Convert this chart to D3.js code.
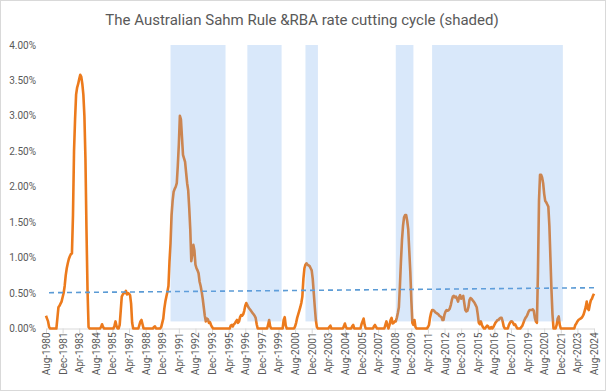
<!DOCTYPE html>
<html><head><meta charset="utf-8">
<script src="https://cdn.jsdelivr.net/npm/d3@7"></script>
<style>body{margin:0;background:#fff}svg{display:block}</style>
</head><body><svg id="c" width="606" height="391"></svg>
<script>
const title = "The Australian Sahm Rule &RBA rate cutting cycle (shaded)";
const startMonth = "Aug-1980";
const endMonth = "Aug-2024";
// Sahm rule indicator, % (monthly, Aug-1980 .. Aug-2024)
const sahm = [
0.18,0.14,0.10,0.02,0,0,0,0,0,0,
0,0.15,0.30,0.32,0.35,0.38,0.44,0.50,0.60,0.75,
0.85,0.92,0.98,1.02,1.05,1.06,1.60,2.50,2.95,3.30,
3.40,3.45,3.52,3.58,3.55,3.45,3.30,3.00,2.40,1.40,
0.55,0.02,0,0,0,0,0,0,0,0,
0,0,0,0.02,0.06,0.02,0,0,0,0,
0,0,0,0,0,0,0.04,0.10,0.03,0,
0,0.05,0.25,0.45,0.48,0.50,0.50,0.53,0.48,0.50,
0.49,0.47,0.35,0.08,0,0,0,0,0,0,
0.05,0.10,0.12,0.06,0,0,0,0,0,0,
0,0,0,0,0.02,0.03,0,0,0,0,
0,0.02,0.08,0.14,0.28,0.38,0.45,0.52,0.60,0.95,
1.20,1.60,1.80,1.93,1.97,2.00,2.05,2.30,2.60,3.00,
2.95,2.70,2.45,2.40,2.35,2.20,2.05,1.95,1.70,1.40,
0.95,1.05,1.18,1.10,0.90,0.85,0.82,0.78,0.66,0.60,
0.52,0.42,0.30,0.18,0.10,0.14,0.13,0.08,0.09,0.05,
0.02,0,0,0,0,0,0,0,0,0,
0,0,0,0,0,0,0,0,0.04,0.05,
0.03,0.06,0.07,0.10,0.12,0.08,0.10,0.16,0.19,0.18,
0.20,0.25,0.32,0.36,0.33,0.30,0.28,0.26,0.24,0.22,
0.20,0.18,0.15,0.06,0,0,0,0,0,0,
0,0,0,0,0.05,0.12,0.03,0,0,0,
0,0,0,0,0,0,0,0,0,0.12,
0.16,0.04,0,0,0,0,0,0,0,0,
0.03,0.08,0.15,0.20,0.25,0.30,0.36,0.45,0.70,0.85,
0.90,0.92,0.90,0.89,0.88,0.85,0.82,0.70,0.50,0.30,
0.12,0.02,0,0,0,0,0,0,0,0,
0,0,0,0.02,0.04,0,0,0,0,0,
0,0,0,0,0,0,0,0.03,0.07,0.02,
0,0,0,0,0,0.03,0.05,0,0,0,
0,0,0,0,0.06,0.10,0.14,0.05,0,0,
0,0,0,0,0,0,0.03,0.05,0.02,0,
0,0,0,0,0,0,0,0.05,0.10,0.04,
0,0.05,0.12,0.15,0.07,0.08,0.10,0.10,0.15,0.22,
0.30,0.60,0.95,1.25,1.45,1.57,1.60,1.60,1.52,1.40,
1.10,0.80,0.40,0.08,0.05,0.12,0.02,0,0,0,
0,0,0,0,0,0,0,0,0.02,0.05,
0.15,0.22,0.26,0.26,0.25,0.23,0.22,0.21,0.20,0.18,
0.17,0.16,0.12,0.12,0.20,0.24,0.26,0.25,0.26,0.28,
0.33,0.40,0.45,0.46,0.44,0.45,0.42,0.38,0.44,0.47,
0.42,0.44,0.46,0.36,0.26,0.24,0.25,0.30,0.40,0.43,
0.42,0.40,0.38,0.36,0.33,0.30,0.20,0.08,0.06,0.10,
0.05,0.02,0,0,0.02,0.04,0.03,0,0,0.02,
0,0.02,0.05,0.08,0.10,0.12,0.12,0.14,0.15,0.15,
0.10,0.03,0,0,0,0,0.05,0.08,0.10,0.10,
0.08,0.05,0.06,0.03,0,0,0,0,0.02,0.04,
0.08,0.12,0.15,0.17,0.20,0.24,0.26,0.26,0.26,0.27,
0.25,0.15,0.10,0.08,0.80,1.80,2.17,2.17,2.13,2.05,
1.90,1.80,1.78,1.75,1.72,1.45,1.00,0.55,0.20,0,
0,0,0.05,0.14,0.17,0.05,0,0,0,0,
0,0,0,0,0,0,0,0,0,0,
0.05,0.07,0.10,0.12,0.13,0.14,0.15,0.17,0.20,0.25,
0.30,0.38,0.28,0.26,0.34,0.40,0.42,0.46,0.49
];
// linear trend of the indicator, as drawn (start, end), %
const trend = [0.505, 0.575];
// RBA rate cutting cycles (shaded), as drawn
const cycleStart = ["Aug-1990","Oct-1996","Jun-2001","Sep-2008","Aug-2011"];
const cycleEnd   = ["Jan-1995","Jul-1999","Jun-2002","Feb-2010","Feb-2022"];
const shadeFloor = 0.1, shadeCeil = 4.0;
const yTicks = [0,0.5,1,1.5,2,2.5,3,3.5,4];
const labelEvery = 16;

const fmtM = d3.timeFormat("%b-%Y"), parseM = d3.timeParse("%b-%Y");
const months = d3.timeMonth.range(parseM(startMonth), d3.timeMonth.offset(parseM(endMonth),1)).map(fmtM);
const data = months.map((m,i)=>({m, v: sahm[i]}));

const svg = d3.select("#c");
svg.append("rect").attr("x",0.5).attr("y",0.5).attr("width",605).attr("height",390)
  .attr("fill","#fff").attr("stroke","#d9d9d9");

const x = d3.scalePoint().domain(months).range([46, 594]);
const y = d3.scaleLinear().domain([0,4]).range([328.5, 45]);
const font = "Roboto, 'Open Sans', sans-serif";

// y labels
svg.append("g").selectAll("text").data(yTicks).join("text")
  .attr("x",36).attr("y",d=>y(d)).attr("dy","0.35em").attr("text-anchor","end")
  .attr("font-family",font).attr("font-size",10).attr("fill","#595959")
  .text(d=>d3.format(".2f")(d)+"%");

// x axis
const xAxis = d3.axisBottom(x).tickValues(months.filter((d,i)=>i%labelEvery===0)).tickSize(5).tickPadding(3);
const gx = svg.append("g").attr("transform",`translate(0,${y(0)})`).call(xAxis);
gx.select(".domain").attr("stroke","#d9d9d9");
gx.selectAll(".tick line").attr("stroke","#d9d9d9");
gx.selectAll(".tick text").attr("transform","rotate(-90)").attr("text-anchor","end")
  .attr("x",-4).attr("y",0).attr("dy","0.35em")
  .attr("font-family",font).attr("font-size",10).attr("fill","#595959");

// line
svg.append("path").datum(data)
  .attr("fill","none").attr("stroke","#ec7a1c").attr("stroke-width",2.6).attr("stroke-linejoin","round")
  .attr("d", d3.line().x(d=>x(d.m)).y(d=>y(d.v)));

// trendline
svg.append("line")
  .attr("x1",x(months[0])+3).attr("x2",x(months[months.length-1]))
  .attr("y1",y(trend[0])).attr("y2",y(trend[1]))
  .attr("stroke","#5b9bd5").attr("stroke-width",1.6).attr("stroke-dasharray","5,4");

// shading on top
svg.append("g").selectAll("rect").data(cycleStart.map((s,i)=>({s,e:cycleEnd[i]}))).join("rect")
  .attr("x",d=>x(d.s)).attr("width",d=>x(d.e)-x(d.s))
  .attr("y",y(shadeCeil)).attr("height",y(shadeFloor)-y(shadeCeil))
  .attr("fill","#6ea6ea").attr("fill-opacity",0.26);

// title
svg.append("text").attr("x",302).attr("y",25).attr("text-anchor","middle")
  .attr("font-family",font).attr("font-size",15).attr("fill","#595959")
  .text(title);
</script></body></html>
